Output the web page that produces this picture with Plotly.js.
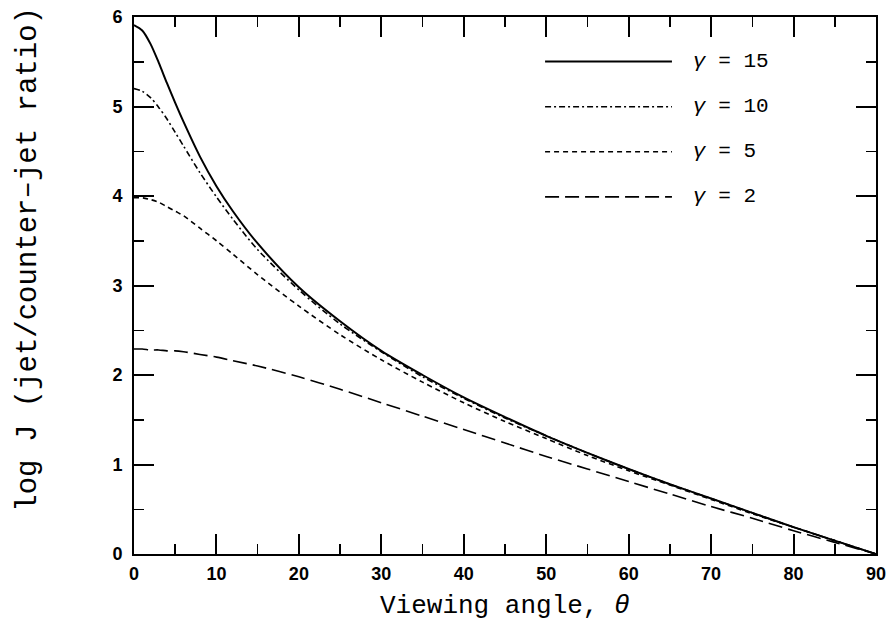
<!DOCTYPE html>
<html>
<head>
<meta charset="utf-8">
<script src="https://cdn.plot.ly/plotly-3.0.1.min.js"></script>
<style>html,body{margin:0;padding:0;background:#fff;}#chart{width:892px;height:628px;}</style>
</head>
<body>
<div id="chart"></div>
<script>
// Viewing angle (degrees)
var theta = [0,1,2,3,4,5,6,8,10,12,15,20,25,30,35,40,45,50,55,60,65,70,75,80,85,90];
// log J for each Lorentz factor
var gamma15 = [5.91,5.85,5.70,5.49,5.26,5.04,4.83,4.44,4.11,3.83,3.47,2.98,2.60,2.27,2.00,1.75,1.53,1.32,1.13,0.95,0.78,0.62,0.46,0.30,0.15,0];
var gamma10 = [5.20,5.17,5.10,4.99,4.86,4.71,4.56,4.26,3.99,3.74,3.40,2.95,2.57,2.26,1.98,1.74,1.52,1.32,1.13,0.95,0.78,0.62,0.46,0.30,0.15,0];
var gamma5  = [3.98,3.98,3.96,3.93,3.88,3.83,3.78,3.64,3.50,3.35,3.12,2.77,2.45,2.17,1.92,1.69,1.48,1.29,1.10,0.93,0.77,0.61,0.45,0.30,0.15,0];
var gamma2  = [2.29,2.29,2.28,2.28,2.27,2.27,2.26,2.23,2.20,2.16,2.10,1.98,1.84,1.69,1.54,1.39,1.24,1.09,0.95,0.81,0.67,0.53,0.40,0.26,0.13,0];
var seriesNames = ['<i>γ</i> = 15', '<i>γ</i> = 10', '<i>γ</i> = 5', '<i>γ</i> = 2'];
var xTitle = 'Viewing angle, <i>θ</i>';
var yTitle = 'log J (jet/counter\u2013jet ratio)';

var series = [gamma15, gamma10, gamma5, gamma2];
var dashes = ['solid', '6px,3px,2px,3px', '5px,4px', '14px,6px'];
var widths = [2, 1.6, 1.6, 1.6];

var traces = series.map(function (s, i) {
  return {
    x: theta, y: s, type: 'scatter', mode: 'lines', name: seriesNames[i],
    line: {color: '#000', width: widths[i], dash: dashes[i], shape: 'spline', smoothing: 0.8},
    showlegend: false, hoverinfo: 'skip'
  };
});

var monoFamily = 'Liberation Mono, Courier New, monospace';
var tickFont = {family: 'Liberation Sans, Arial, sans-serif', size: 18, color: '#000', weight: 'bold'};

// custom legend (long sample lines like the original)
var shapes = [], annotations = [];
var legX0 = 0.554, legX1 = 0.725, legTextX = 0.750;
var legY = [0.917, 0.833, 0.749, 0.665];
seriesNames.forEach(function (n, i) {
  shapes.push({type: 'line', xref: 'paper', yref: 'paper', x0: legX0, x1: legX1, y0: legY[i], y1: legY[i],
    line: {color: '#000', width: widths[i], dash: dashes[i]}});
  annotations.push({xref: 'paper', yref: 'paper', x: legTextX, y: legY[i], xanchor: 'left', yanchor: 'middle',
    text: n, showarrow: false, font: {family: monoFamily, size: 21, color: '#000'}});
});
annotations.push({xref: 'paper', yref: 'paper', x: 0.5, y: -0.097, xanchor: 'center', yanchor: 'middle',
  text: xTitle, showarrow: false, font: {family: monoFamily, size: 26, color: '#000'}});
annotations.push({xref: 'paper', yref: 'paper', x: -0.1415, y: 0.548, xanchor: 'center', yanchor: 'middle',
  text: yTitle, textangle: -90, showarrow: false, font: {family: monoFamily, size: 29, color: '#000'}});

var axisCommon = {
  showgrid: false, zeroline: false, showline: true, linecolor: '#000', linewidth: 2,
  mirror: 'ticks', ticks: 'inside', ticklen: 20, tickwidth: 2, tickcolor: '#000',
  tickfont: tickFont
};

var layout = {
  width: 892, height: 628,
  margin: {l: 134, r: 16, t: 17, b: 74},
  paper_bgcolor: '#fff', plot_bgcolor: '#fff',
  xaxis: Object.assign({}, axisCommon, {range: [0, 90], dtick: 10, tick0: 0, ticklabelstandoff: 2,
    minor: {dtick: 5, ticklen: 10, ticks: 'inside', tickwidth: 1.5, tickcolor: '#000'}}),
  yaxis: Object.assign({}, axisCommon, {range: [0, 6], dtick: 1, tick0: 0, ticklabelstandoff: 6,
    minor: {dtick: 0.5, ticklen: 10, ticks: 'inside', tickwidth: 1.5, tickcolor: '#000'}}),
  shapes: shapes,
  annotations: annotations,
  showlegend: false
};

Plotly.newPlot('chart', traces, layout, {staticPlot: true, displayModeBar: false});
</script>
</body>
</html>
